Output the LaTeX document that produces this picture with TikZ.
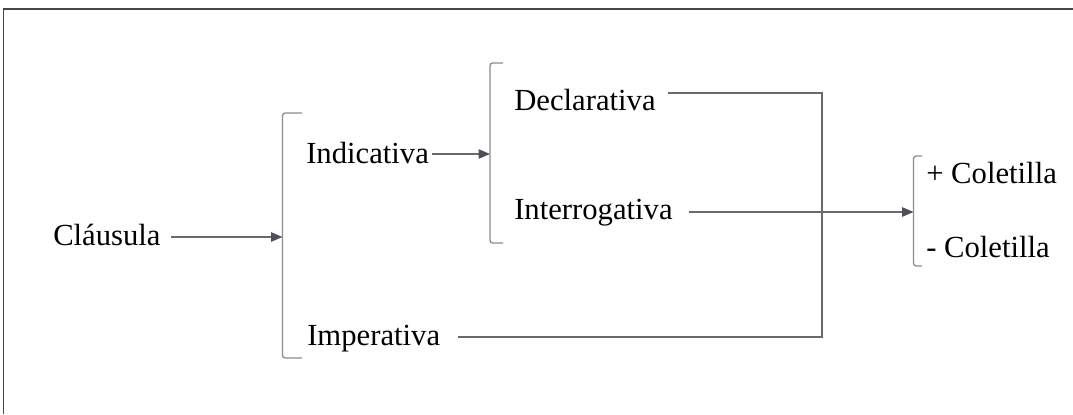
\documentclass[tikz,border=0pt]{standalone}
\usepackage{fontspec}
\setmainfont{Liberation Serif}
\usetikzlibrary{arrows.meta}
\definecolor{framecol}{RGB}{70,70,72}
\definecolor{linecol}{RGB}{105,105,110}
\definecolor{brackcol}{RGB}{140,140,145}
\definecolor{tipcol}{RGB}{75,80,90}
\tikzset{
  lbl/.style={anchor=base west, inner sep=0pt, font=\fontsize{23}{28}\selectfont},
  conn/.style={draw=linecol, line width=1pt},
  arr/.style={conn, -{Triangle[length=8.5pt,width=7pt,fill=tipcol,color=tipcol]}},
  brack/.style={draw=brackcol, line width=1pt, rounded corners=2pt},
  frameline/.style={draw=framecol, line width=1.1pt}
}
\begin{document}
\begin{tikzpicture}[x=0.75pt,y=-0.75pt]
  \useasboundingbox (0,0) rectangle (1073,414);
  % outer frame (top and left edges)
  \draw[frameline] (3.5,414) -- (3.5,9) -- (1073,9);

  % labels
  \node[lbl] (cl)  at (53,245)  {Cláusula};
  \node[lbl] (ind) at (306,163) {Indicativa};
  \node[lbl] (imp) at (307,345) {Imperativa};
  \node[lbl] (dec) at (514,110) {Declarativa};
  \node[lbl] (int) at (514,219) {Interrogativa};
  \node[lbl] (pc)  at (926,183) {+ Coletilla};
  \node[lbl] (mc)  at (926,257) {- Coletilla};

  % brackets
  \draw[brack] (302,113) -- (282.5,113) -- (282.5,358) -- (302,358);
  \draw[brack] (503,63) -- (490,63) -- (490,243) -- (503,243);
  \draw[brack] (922,156) -- (913.5,156) -- (913.5,266) -- (922,266);

  % points where connectors meet brackets and the elbow
  \coordinate (b1) at (282.5,237);
  \coordinate (b2) at (490,154);
  \coordinate (b3) at (913.5,212);
  \coordinate (etop) at (822,93);
  \coordinate (ebot) at (822,337);

  % connectors
  \draw[arr] ([xshift=7.5pt]cl.east |- b1) -- (b1);
  \draw[arr] ([xshift=2pt]ind.east |- b2) -- (b2);
  \draw[conn] ([xshift=9pt]dec.east |- etop) -- (etop) -- (ebot)
              -- ([xshift=13.5pt]imp.east |- ebot);
  \draw[arr] ([xshift=12pt]int.east |- b3) -- (b3);
\end{tikzpicture}
\end{document}
